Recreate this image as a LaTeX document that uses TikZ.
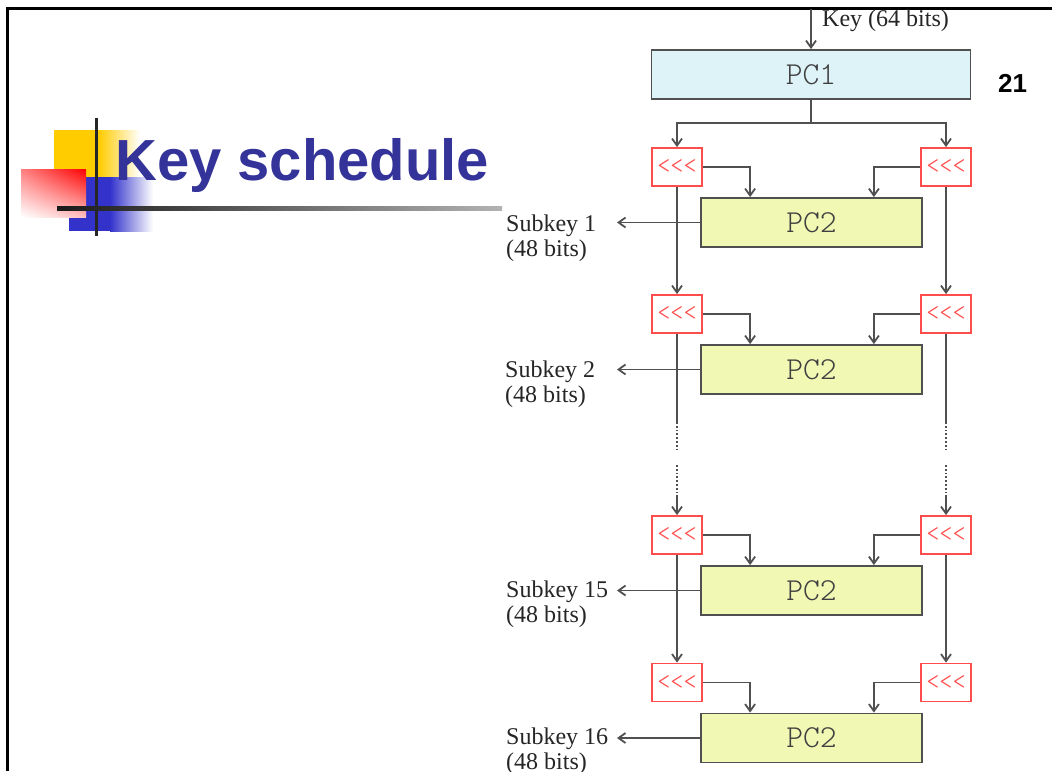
\documentclass[tikz,border=0pt]{standalone}
\usepackage{fontspec}
\setmainfont{Liberation Serif}
\newfontfamily\slidefont{Liberation Sans}
\usetikzlibrary{positioning, arrows.meta, shadings}

\definecolor{titleblue}{HTML}{333399}
\definecolor{pcblue}{HTML}{DDF3F8}
\definecolor{pcgreen}{HTML}{F0F8B4}
\definecolor{wire}{HTML}{505050}
\definecolor{shiftred}{HTML}{FF4D4D}
\definecolor{decoyellow}{HTML}{FFCC00}
\definecolor{decoblue}{HTML}{3333CC}

\begin{document}
\begin{tikzpicture}[x=1pt, y=-1pt, >={Straight Barb[length=7pt,width=10pt]},
    pcbox/.style={draw=wire, line width=1.8pt, minimum height=49pt, inner sep=0pt,
      text=black!75, font=\fontsize{32}{32}\selectfont\ttfamily\fontseries{l}\selectfont},
    shiftbox/.style={draw=shiftred, line width=1.8pt, fill=white, minimum width=50pt,
      minimum height=38pt, inner sep=0pt, text=shiftred,
      font=\fontsize{25}{25}\selectfont\ttfamily\fontseries{l}\selectfont},
    lbl/.style={align=left, inner sep=0pt, text=black!85, font=\fontsize{24}{25}\selectfont},
    wireline/.style={draw=wire, line width=1.8pt}]

    \fill[white] (0,0) rectangle (1052,771);
    \useasboundingbox (0,0) rectangle (1052,771);

    % slide frame
    \draw[line width=3pt] (7.5,771) -- (7.5,8.5) -- (1052,8.5);

    % title decoration
    \fill[decoyellow] (54,130) rectangle (99,177);
    \shade[left color=decoyellow, right color=white] (99,130) rectangle (140,177);
    \fill[decoblue] (69,177) rectangle (110,231);
    \shade[left color=decoblue, right color=white] (110,177) rectangle (153,231);
    \shade[upper left=red!50, upper right=red, lower left=white, lower right=red!25] (21,169) rectangle (86,217);
    \fill[black!85] (94.5,118) rectangle (97.5,236);
    \shade[left color=black!90, right color=black!30] (57,206) rectangle (502,210);

    \node[anchor=base west, inner sep=0pt, text=titleblue,
      font=\slidefont\bfseries\fontsize{58}{60}\selectfont] (title) at (115,180) {Key schedule};
    \node[anchor=base west, inner sep=0pt,
      font=\slidefont\bfseries\fontsize{26}{26}\selectfont] (pagenum) at (998,92) {21};

    % PC1
    \coordinate (keyin) at (811,9);
    \node[lbl, anchor=base west] (keylbl) at (822,26) {Key (64 bits)};
    \node[pcbox, fill=pcblue, minimum width=319pt] (pc1) at (811,74.5) {PC1};
    \draw[wireline, ->] (keyin) -- (pc1);
    \coordinate (split) at (811,123);
    \draw[wireline] (pc1) -- (split);

    % round 1
    \node[shiftbox] (sl1) at (677,167) {<\kern0pt<\kern0pt<};
    \node[shiftbox] (sr1) at (946,167) {<\kern0pt<\kern0pt<};
    \draw[wireline, ->] (split) -| (sl1);
    \draw[wireline, ->] (split) -| (sr1);
    \node[pcbox, fill=pcgreen, minimum width=221pt] (pc2a) at (811.5,222.5) {PC2};
    \draw[wireline, ->] (sl1) -| ([xshift=50pt]pc2a.north west);
    \draw[wireline, ->] (sr1) -| ([xshift=-49pt]pc2a.north east);
    \coordinate (out1) at (617,222.5);
    \node[lbl, anchor=north west] (sk1) at (506,214.5) {Subkey 1\\(48 bits)};

    % round 2
    \node[shiftbox] (sl2) at (677,314) {<\kern0pt<\kern0pt<};
    \node[shiftbox] (sr2) at (946,314) {<\kern0pt<\kern0pt<};
    \draw[wireline, ->] (sl1) -- (sl2);
    \draw[wireline, ->] (sr1) -- (sr2);
    \draw[wireline, ->] (pc2a) -- (out1);
    \node[pcbox, fill=pcgreen, minimum width=221pt] (pc2b) at (811.5,369.5) {PC2};
    \draw[wireline, ->] (sl2) -| ([xshift=50pt]pc2b.north west);
    \draw[wireline, ->] (sr2) -| ([xshift=-49pt]pc2b.north east);
    \coordinate (out2) at (617,369.5);
    \node[lbl, anchor=north west] (sk2) at (505,360.5) {Subkey 2\\(48 bits)};

    % rounds 3 to 14 left out
    \coordinate (gapl1) at (677,422);
    \coordinate (gapl2) at (677,450);
    \coordinate (gapl3) at (677,465);
    \coordinate (gapl4) at (677,497);
    \coordinate (gapr1) at (946,422);
    \coordinate (gapr2) at (946,450);
    \coordinate (gapr3) at (946,465);
    \coordinate (gapr4) at (946,497);
    \draw[wireline] (sl2) -- (gapl1);
    \draw[wireline] (sr2) -- (gapr1);
    \draw[wireline, dotted] (gapl1) -- (gapl2);
    \draw[wireline, dotted] (gapr1) -- (gapr2);
    \draw[wireline, dotted] (gapl3) -- (gapl4);
    \draw[wireline, dotted] (gapr3) -- (gapr4);
    \draw[wireline, ->] (pc2b) -- (out2);

    % round 15
    \node[shiftbox] (sl15) at (677,535) {<\kern0pt<\kern0pt<};
    \node[shiftbox] (sr15) at (946,535) {<\kern0pt<\kern0pt<};
    \draw[wireline, ->] (gapl4) -- (sl15);
    \draw[wireline, ->] (gapr4) -- (sr15);
    \node[pcbox, fill=pcgreen, minimum width=221pt] (pc2c) at (811.5,590.5) {PC2};
    \draw[wireline, ->] (sl15) -| ([xshift=50pt]pc2c.north west);
    \draw[wireline, ->] (sr15) -| ([xshift=-49pt]pc2c.north east);
    \coordinate (out15) at (617,590.5);
    \node[lbl, anchor=north west] (sk15) at (506,580.5) {Subkey 15\\(48 bits)};

    % round 16
    \node[shiftbox] (sl16) at (677,682.5) {<\kern0pt<\kern0pt<};
    \node[shiftbox] (sr16) at (946,682.5) {<\kern0pt<\kern0pt<};
    \draw[wireline, ->] (sl15) -- (sl16);
    \draw[wireline, ->] (sr15) -- (sr16);
    \draw[wireline, ->] (pc2c) -- (out15);
    \node[pcbox, fill=pcgreen, minimum width=221pt] (pc2d) at (811.5,738) {PC2};
    \draw[wireline, ->] (sl16) -| ([xshift=50pt]pc2d.north west);
    \draw[wireline, ->] (sr16) -| ([xshift=-49pt]pc2d.north east);
    \coordinate (out16) at (617,738);
    \draw[wireline, ->] (pc2d) -- (out16);
    \node[lbl, anchor=north west] (sk16) at (506,727.5) {Subkey 16\\(48 bits)};
\end{tikzpicture}
\end{document}
